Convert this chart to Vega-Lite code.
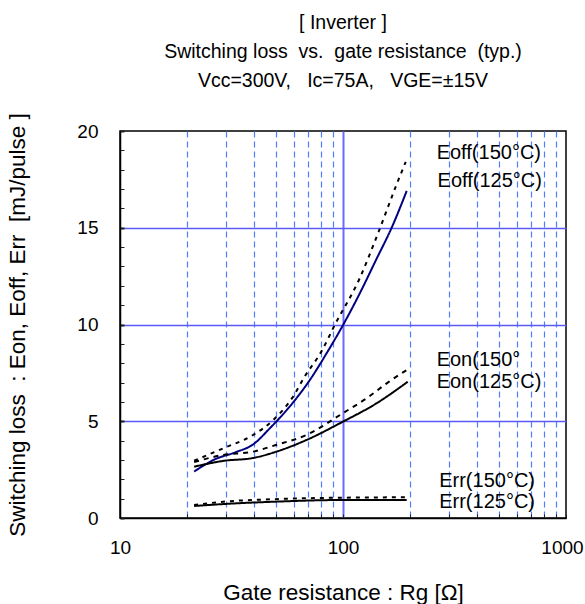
{
  "$schema": "https://vega.github.io/schema/vega-lite/v6.json",
  "width": 446,
  "height": 387,
  "autosize": {"type": "none"},
  "padding": {"left": 120, "top": 131, "right": 19, "bottom": 86},
  "background": "white",
  "config": {
    "view": {"stroke": "black", "strokeWidth": 1.5},
    "font": "Liberation Sans"
  },
  "title": {
    "text": ["[ Inverter ]", "Switching loss\u00a0 vs.\u00a0 gate resistance\u00a0 (typ.)", "Vcc=300V,\u00a0\u00a0 Ic=75A,\u00a0\u00a0 VGE=±15V"],
    "fontSize": 19.5,
    "font": "Liberation Sans",
    "fontWeight": "normal",
    "color": "black",
    "lineHeight": 29,
    "anchor": "middle",
    "frame": "group",
    "offset": 21
  },
  "datasets": {
    "curves": [
      {"series": "Eoff150", "rg": 21.5, "e": 2.96},
      {"series": "Eoff150", "rg": 29, "e": 3.6},
      {"series": "Eoff150", "rg": 39.5, "e": 4.29},
      {"series": "Eoff150", "rg": 48.6, "e": 5.06},
      {"series": "Eoff150", "rg": 59.7, "e": 6.27},
      {"series": "Eoff150", "rg": 67.2, "e": 7.3},
      {"series": "Eoff150", "rg": 80, "e": 8.6},
      {"series": "Eoff150", "rg": 91.8, "e": 9.97},
      {"series": "Eoff150", "rg": 118.8, "e": 12.39},
      {"series": "Eoff150", "rg": 143.5, "e": 14.71},
      {"series": "Eoff150", "rg": 173.4, "e": 17.2},
      {"series": "Eoff150", "rg": 191, "e": 18.4},
      {"series": "Eoff125", "rg": 21.5, "e": 2.4},
      {"series": "Eoff125", "rg": 26.6, "e": 3.03},
      {"series": "Eoff125", "rg": 33, "e": 3.4},
      {"series": "Eoff125", "rg": 39.5, "e": 3.8},
      {"series": "Eoff125", "rg": 47, "e": 4.64},
      {"series": "Eoff125", "rg": 60, "e": 6.0},
      {"series": "Eoff125", "rg": 71, "e": 7.13},
      {"series": "Eoff125", "rg": 84.4, "e": 8.51},
      {"series": "Eoff125", "rg": 100, "e": 9.97},
      {"series": "Eoff125", "rg": 118.8, "e": 11.6},
      {"series": "Eoff125", "rg": 141.5, "e": 13.4},
      {"series": "Eoff125", "rg": 164.8, "e": 14.97},
      {"series": "Eoff125", "rg": 193, "e": 16.9},
      {"series": "Eon150", "rg": 21.5, "e": 2.89},
      {"series": "Eon150", "rg": 29, "e": 3.26},
      {"series": "Eon150", "rg": 39.5, "e": 3.43},
      {"series": "Eon150", "rg": 50, "e": 3.77},
      {"series": "Eon150", "rg": 68.5, "e": 4.29},
      {"series": "Eon150", "rg": 100, "e": 5.42},
      {"series": "Eon150", "rg": 130, "e": 6.25},
      {"series": "Eon150", "rg": 157, "e": 6.96},
      {"series": "Eon150", "rg": 195, "e": 7.68},
      {"series": "Eon125", "rg": 21.5, "e": 2.65},
      {"series": "Eon125", "rg": 29, "e": 2.95},
      {"series": "Eon125", "rg": 39.5, "e": 3.1},
      {"series": "Eon125", "rg": 50, "e": 3.42},
      {"series": "Eon125", "rg": 68.5, "e": 4.03},
      {"series": "Eon125", "rg": 100, "e": 4.98},
      {"series": "Eon125", "rg": 141.5, "e": 5.93},
      {"series": "Eon125", "rg": 195, "e": 7.04},
      {"series": "Err150", "rg": 21.5, "e": 0.67},
      {"series": "Err150", "rg": 29, "e": 0.84},
      {"series": "Err150", "rg": 48.6, "e": 0.97},
      {"series": "Err150", "rg": 100, "e": 1.05},
      {"series": "Err150", "rg": 193, "e": 1.07},
      {"series": "Err125", "rg": 21.5, "e": 0.62},
      {"series": "Err125", "rg": 29, "e": 0.72},
      {"series": "Err125", "rg": 48.6, "e": 0.84},
      {"series": "Err125", "rg": 100, "e": 0.93},
      {"series": "Err125", "rg": 193, "e": 0.93}
    ],
    "labels": [
      {"label": "Eoff(150°C)", "rg": 263, "e": 18.86},
      {"label": "Eoff(125°C)", "rg": 265.5, "e": 17.4},
      {"label": "Eon(150°", "rg": 263, "e": 8.17},
      {"label": "Eon(125°C)", "rg": 263, "e": 7.04},
      {"label": "Err(150°C)", "rg": 270, "e": 1.9},
      {"label": "Err(125°C)", "rg": 270, "e": 0.82}
    ]
  },
  "encoding": {
    "x": {
      "field": "rg", "type": "quantitative",
      "scale": {"type": "log", "domain": [10, 1000], "nice": false},
      "axis": {
        "title": "Gate resistance : Rg [Ω]",
        "titleFont": "Liberation Sans", "titleFontSize": 22.5, "titleFontWeight": "normal", "titleColor": "black",
        "titlePadding": 24,
        "values": [10, 20, 30, 40, 50, 60, 70, 80, 90, 100, 200, 300, 400, 500, 600, 700, 800, 900, 1000],
        "labelExpr": "datum.value==10||datum.value==100||datum.value==1000 ? format(datum.value,'d') : ''",
        "labelFont": "Liberation Sans", "labelFontSize": 19, "labelColor": "black",
        "labelOverlap": false, "labelBound": false, "labelFlush": false,
        "labelPadding": 24,
        "labelOffset": {"condition": {"test": "datum.value==1000", "value": -4}, "value": 0},
        "domainColor": "black", "domainWidth": 1.5,
        "tickSize": -4, "tickColor": "#222", "tickWidth": 1,
        "grid": true,
        "gridColor": {"condition": {"test": "datum.value==100", "value": "#6b6bff"}, "value": "#4f7dff"},
        "gridDash": {"condition": {"test": "datum.value==100", "value": []}, "value": [6, 4]},
        "gridWidth": {"condition": {"test": "datum.value==100", "value": 2}, "value": 1.2},
        "gridOpacity": {"condition": {"test": "datum.value==10||datum.value==1000", "value": 0}, "value": 1}
      }
    },
    "y": {
      "field": "e", "type": "quantitative",
      "scale": {"domain": [0, 20], "nice": false},
      "axis": {
        "title": "Switching loss\u00a0 : Eon, Eoff, Err\u00a0 [mJ/pulse ]",
        "titleFont": "Liberation Sans", "titleFontSize": 22.5, "titleFontWeight": "normal", "titleColor": "black",
        "titleX": -91, "titleY": 193.5,
        "values": [0, 1, 2, 3, 4, 5, 6, 7, 8, 9, 10, 11, 12, 13, 14, 15, 16, 17, 18, 19, 20],
        "labelExpr": "datum.value == 0 || datum.value == 5 || datum.value == 10 || datum.value == 15 || datum.value == 20 ? datum.label : ''",
        "labelFont": "Liberation Sans", "labelFontSize": 19, "labelColor": "black",
        "labelOverlap": false, "labelBound": false, "labelFlush": false,
        "labelPadding": 26,
        "domainColor": "black", "domainWidth": 1.5,
        "tickSize": -4,
        "tickWidth": {"condition": {"test": "datum.value % 5 == 0", "value": 2}, "value": 1},
        "tickColor": "#222",
        "grid": true,
        "gridColor": "#5a5af5",
        "gridWidth": 1.5,
        "gridOpacity": {"condition": {"test": "datum.value==5||datum.value==10||datum.value==15", "value": 1}, "value": 0}
      }
    }
  },
  "layer": [
    {
      "data": {"name": "curves"},
      "mark": {"type": "line", "strokeWidth": 2, "interpolate": "monotone"},
      "encoding": {
        "color": {
          "field": "series", "type": "nominal", "legend": null,
          "scale": {
            "domain": ["Eoff150", "Eoff125", "Eon150", "Eon125", "Err150", "Err125"],
            "range": ["#000000", "#000080", "#000000", "#000000", "#000000", "#000000"]
          }
        },
        "strokeDash": {
          "field": "series", "type": "nominal", "legend": null,
          "scale": {
            "domain": ["Eoff150", "Eoff125", "Eon150", "Eon125", "Err150", "Err125"],
            "range": [[4, 5], [1, 0], [5, 5], [1, 0], [4, 5], [1, 0]]
          }
        }
      }
    },
    {
      "data": {"name": "labels"},
      "mark": {"type": "text", "align": "left", "baseline": "middle", "fontSize": 20, "font": "Liberation Sans", "color": "black"},
      "encoding": {
        "text": {"field": "label"}
      }
    }
  ]
}
